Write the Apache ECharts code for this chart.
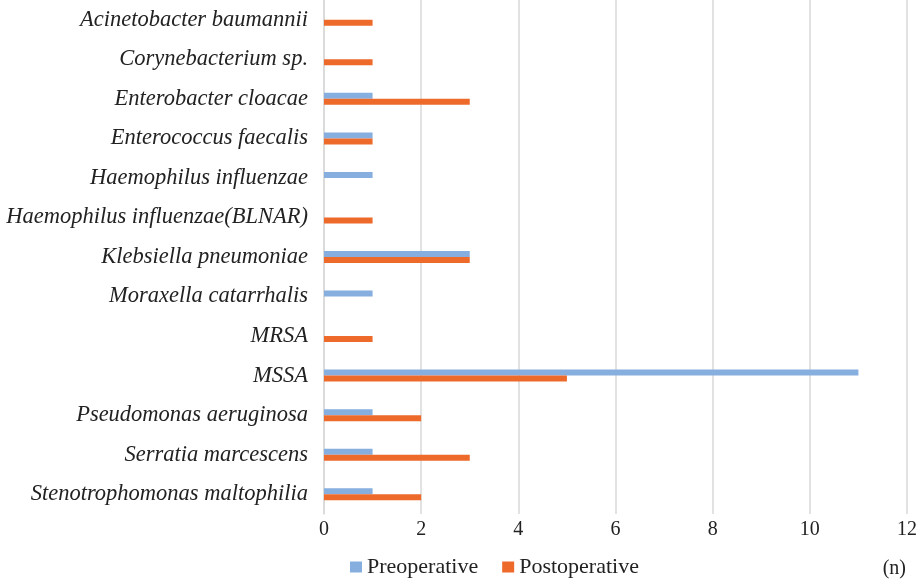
<!DOCTYPE html>
<html>
<head>
<meta charset="utf-8">
<script src="https://cdn.jsdelivr.net/npm/echarts@6/dist/echarts.min.js"></script>
<style>html,body{margin:0;padding:0;background:#fff;}#c{width:920px;height:586px;}</style>
</head>
<body>
<div id="c"></div>
<script>
const categories = [
  "Acinetobacter baumannii",
  "Corynebacterium sp.",
  "Enterobacter cloacae",
  "Enterococcus faecalis",
  "Haemophilus influenzae",
  "Haemophilus influenzae(BLNAR)",
  "Klebsiella pneumoniae",
  "Moraxella catarrhalis",
  "MRSA",
  "MSSA",
  "Pseudomonas aeruginosa",
  "Serratia marcescens",
  "Stenotrophomonas maltophilia"
];
const preoperative  = [0, 0, 1, 1, 1, 0, 3, 1, 0, 11, 1, 1, 1];
const postoperative = [1, 1, 3, 1, 0, 1, 3, 0, 1, 5, 2, 3, 2];
const xTicks = [0, 2, 4, 6, 8, 10, 12];

const chart = echarts.init(document.getElementById('c'));
const font = "'Liberation Serif', 'Times New Roman', serif";
chart.setOption({
  animation: false,
  textStyle: { fontFamily: font },
  grid: { left: 324, right: 13, top: 0, bottom: 72, containLabel: false },
  legend: {
    data: ['Preoperative', 'Postoperative'],
    bottom: 3,
    left: 345,
    itemWidth: 12,
    itemHeight: 11,
    itemGap: 24,
    icon: 'rect',
    textStyle: { fontFamily: font, fontSize: 22, color: '#222' }
  },
  graphic: [{
    type: 'text', right: 14, bottom: 7,
    style: { text: '(n)', font: "20px 'Liberation Serif'", fill: '#222' }
  }],
  xAxis: {
    type: 'value', min: xTicks[0], max: xTicks[xTicks.length - 1], interval: 2,
    axisLine: { show: false }, axisTick: { show: false },
    axisLabel: { fontFamily: font, fontSize: 20, color: '#222', margin: 6 },
    splitLine: { lineStyle: { color: '#d9d9d9', width: 1.5 } }
  },
  yAxis: {
    type: 'category', data: categories, inverse: true,
    axisLine: { show: true, lineStyle: { color: '#d9d9d9', width: 1.5 } },
    axisTick: { show: false },
    axisLabel: { fontFamily: font, fontSize: 22.5, fontStyle: 'italic', color: '#222', margin: 16 }
  },
  series: [
    { name: 'Preoperative', type: 'bar', data: preoperative, barWidth: 6, barGap: '0%', itemStyle: { color: '#86AEDF' } },
    { name: 'Postoperative', type: 'bar', data: postoperative, barWidth: 6, barGap: '0%', itemStyle: { color: '#EE6A2B' } }
  ]
});
</script>
</body>
</html>
